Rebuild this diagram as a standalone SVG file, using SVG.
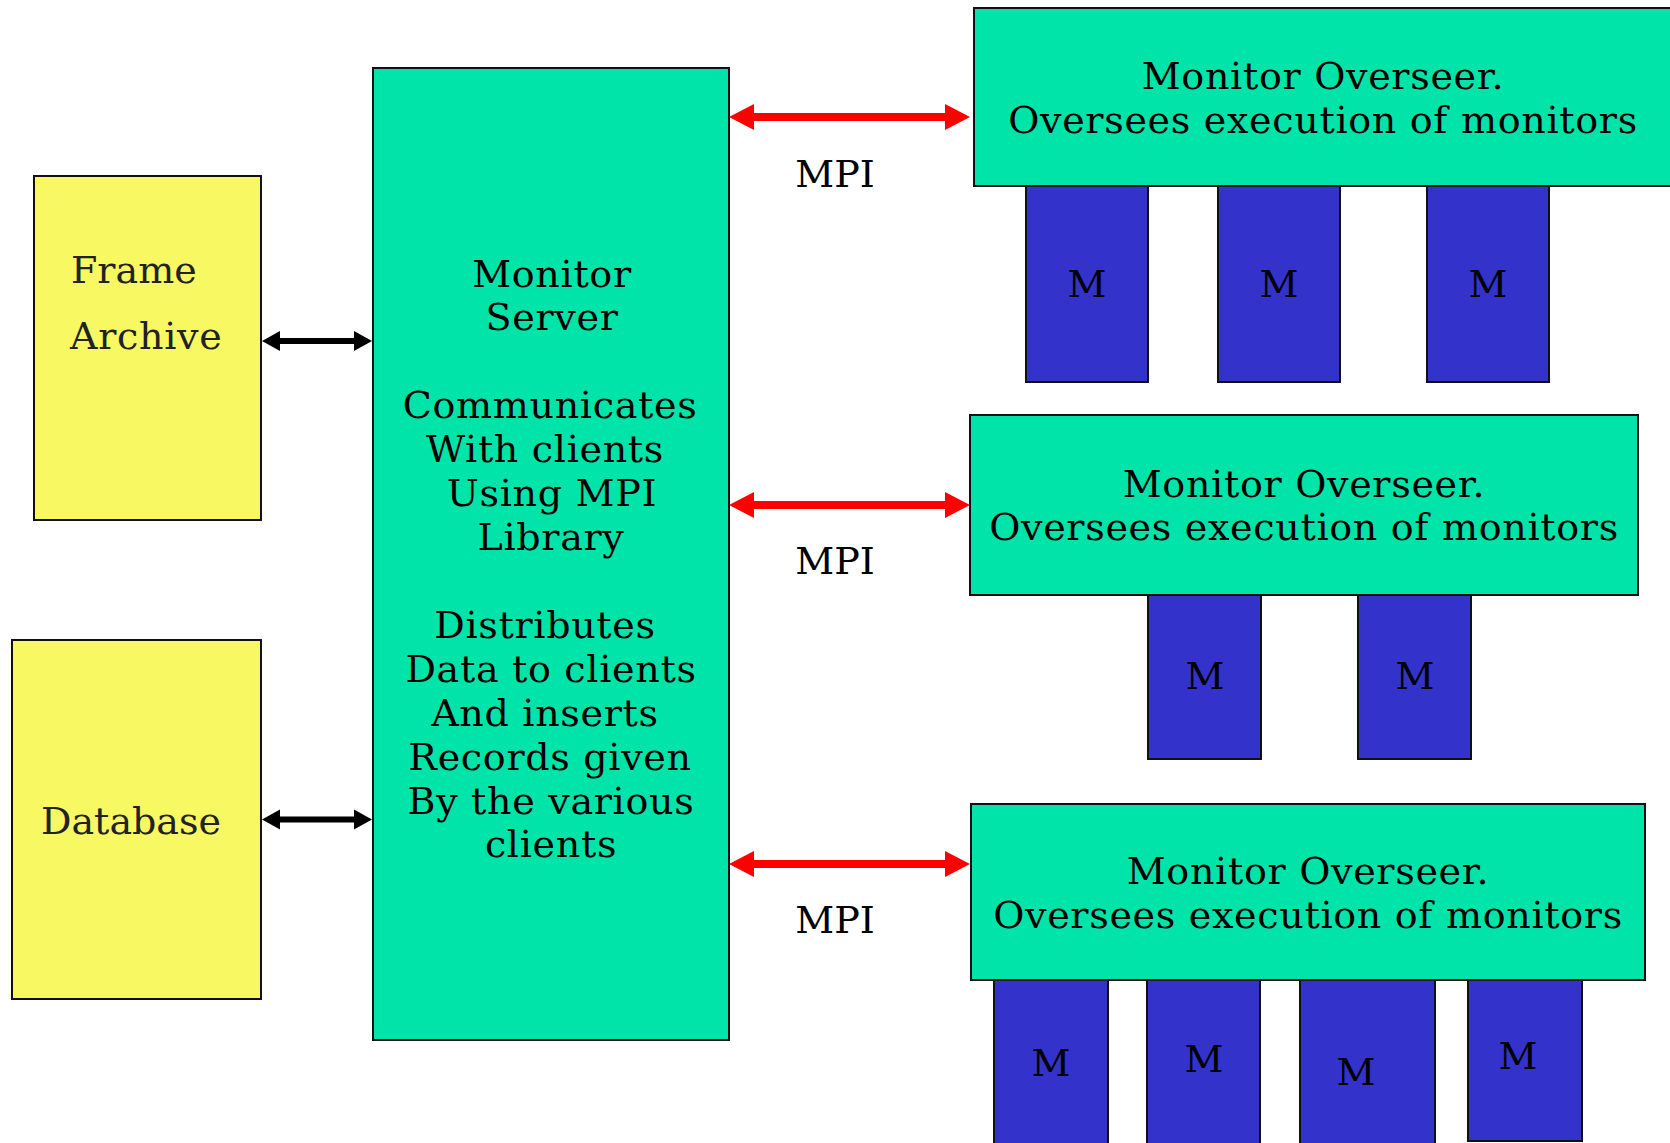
<svg xmlns="http://www.w3.org/2000/svg" width="1670" height="1143" viewBox="0 0 1670 1143">
<style>
  .yel{fill:#F8F862;stroke:#111;stroke-width:2}
  .grn{fill:#00E3A9;stroke:#111;stroke-width:2}
  .blu{fill:#3333CC;stroke:#111;stroke-width:2}
  text{font-family:"DejaVu Serif","Liberation Serif",serif;font-size:38px;fill:#000}
  .dk{fill:#222}
  .c{text-anchor:middle}
  .sp{letter-spacing:0.7px}
  .blk{stroke:#000;stroke-width:6;fill:none}
  .red{stroke:#FF0000;stroke-width:8;fill:none}
</style>
<defs>
  <marker id="hb" markerUnits="userSpaceOnUse" markerWidth="20" markerHeight="22" viewBox="0 -11 20 22" refX="0" refY="0" orient="auto-start-reverse">
    <path d="M0,-10 L18,0 L0,10 Z" fill="#000"/>
  </marker>
  <marker id="hr" markerUnits="userSpaceOnUse" markerWidth="27" markerHeight="28" viewBox="0 -14 27 28" refX="0" refY="0" orient="auto-start-reverse">
    <path d="M0,-13 L25,0 L0,13 Z" fill="#FF0000"/>
  </marker>
</defs>
<rect width="1670" height="1143" fill="#fff"/>

<g id="frame-archive">
  <rect class="yel" x="34" y="176" width="227" height="344"/>
  <text class="dk" x="71" y="283">Frame</text>
  <text class="dk sp" x="70" y="349">Archive</text>
</g>

<g id="database">
  <rect class="yel" x="12" y="640" width="249" height="359"/>
  <text class="dk" x="41" y="834">Database</text>
</g>

<g id="monitor-server">
  <rect class="grn" x="373" y="68" width="356" height="972"/>
  <text class="c sp" x="552" y="287">Monitor</text>
  <text class="c sp" x="552" y="330">Server</text>
  <text class="c sp" x="550" y="418">Communicates</text>
  <text class="c sp" x="545" y="462">With clients</text>
  <text class="c sp" x="552" y="506">Using MPI</text>
  <text class="c sp" x="551" y="550">Library</text>
  <text class="c sp" x="545" y="638">Distributes</text>
  <text class="c sp" x="551" y="682">Data to clients</text>
  <text class="c sp" x="545" y="726">And inserts</text>
  <text class="c sp" x="550" y="770">Records given</text>
  <text class="c sp" x="551" y="814">By the various</text>
  <text class="c sp" x="551" y="857">clients</text>
</g>

<g id="overseer-1">
  <rect class="grn" x="974" y="8" width="700" height="178"/>
  <text class="c sp" x="1323" y="89">Monitor Overseer.</text>
  <text class="c sp" x="1323" y="133">Oversees execution of monitors</text>
</g>
<g id="m-1-1"><rect class="blu" x="1026" y="186" width="122" height="196"/><text class="c" x="1087" y="297">M</text></g>
<g id="m-1-2"><rect class="blu" x="1218" y="186" width="122" height="196"/><text class="c" x="1279" y="297">M</text></g>
<g id="m-1-3"><rect class="blu" x="1427" y="186" width="122" height="196"/><text class="c" x="1488" y="297">M</text></g>

<g id="overseer-2">
  <rect class="grn" x="970" y="415" width="668" height="180"/>
  <text class="c sp" x="1304" y="497">Monitor Overseer.</text>
  <text class="c sp" x="1304" y="540">Oversees execution of monitors</text>
</g>
<g id="m-2-1"><rect class="blu" x="1148" y="595" width="113" height="164"/><text class="c" x="1205" y="689">M</text></g>
<g id="m-2-2"><rect class="blu" x="1358" y="595" width="113" height="164"/><text class="c" x="1415" y="689">M</text></g>

<g id="overseer-3">
  <rect class="grn" x="971" y="804" width="674" height="176"/>
  <text class="c sp" x="1308" y="884">Monitor Overseer.</text>
  <text class="c sp" x="1308" y="928">Oversees execution of monitors</text>
</g>
<g id="m-3-1"><rect class="blu" x="994" y="980" width="114" height="175"/><text class="c" x="1051" y="1076">M</text></g>
<g id="m-3-2"><rect class="blu" x="1147" y="980" width="113" height="175"/><text class="c" x="1204" y="1072">M</text></g>
<g id="m-3-3"><rect class="blu" x="1300" y="980" width="135" height="175"/><text class="c" x="1356" y="1085">M</text></g>
<g id="m-3-4"><rect class="blu" x="1468" y="980" width="114" height="161"/><text class="c" x="1518" y="1069">M</text></g>

<g id="connectors">
  <line class="blk" x1="280" y1="341" x2="354" y2="341" marker-start="url(#hb)" marker-end="url(#hb)"/>
  <line class="blk" x1="280" y1="819.5" x2="354" y2="819.5" marker-start="url(#hb)" marker-end="url(#hb)"/>
  <line class="red" x1="754" y1="117" x2="945" y2="117" marker-start="url(#hr)" marker-end="url(#hr)"/>
  <line class="red" x1="754" y1="505" x2="945" y2="505" marker-start="url(#hr)" marker-end="url(#hr)"/>
  <line class="red" x1="754" y1="864" x2="945" y2="864" marker-start="url(#hr)" marker-end="url(#hr)"/>
  <text class="c" x="835" y="187">MPI</text>
  <text class="c" x="835" y="574">MPI</text>
  <text class="c" x="835" y="933">MPI</text>
</g>
</svg>
